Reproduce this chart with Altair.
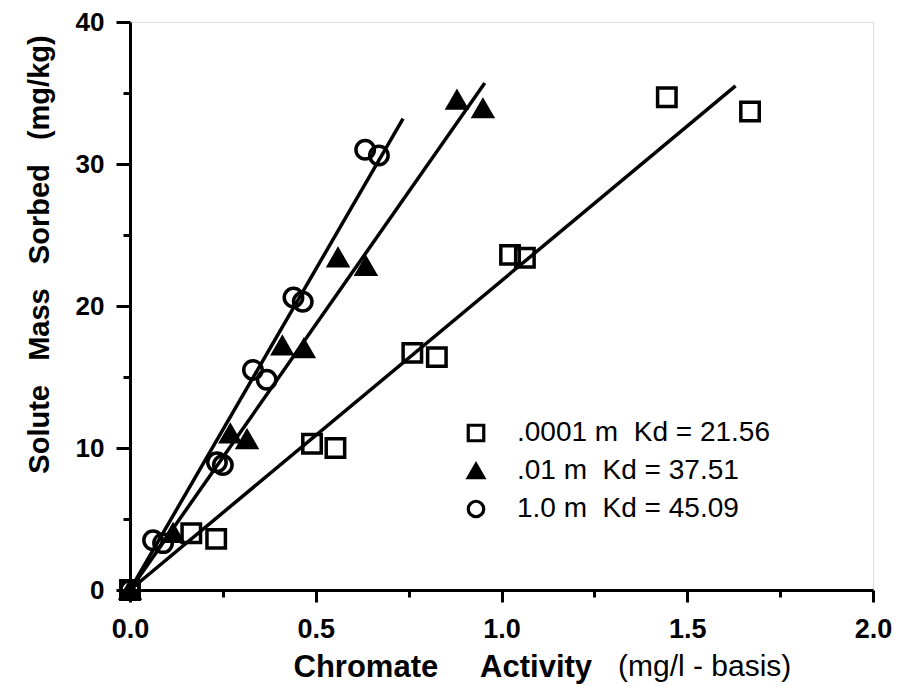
import altair as alt
import pandas as pd

NB = "\u00a0"

# ---- data ----
series_labels = [
    ".0001 m" + NB + NB + "Kd = 21.56",
    ".01 m" + NB + NB + "Kd = 37.51",
    "1.0 m" + NB + NB + "Kd = 45.09",
]

sq_x = [0.0, 0.165, 0.232, 0.490, 0.553, 0.760, 0.826, 1.023, 1.063, 1.445, 1.669]
sq_y = [0.0, 4.0, 3.6, 10.3, 10.0, 16.7, 16.4, 23.6, 23.4, 34.7, 33.7]

tri_x = [0.0, 0.116, 0.270, 0.315, 0.410, 0.468, 0.560, 0.635, 0.880, 0.950]
tri_y = [0.0, 4.0, 11.0, 10.6, 17.2, 17.0, 23.4, 22.8, 34.5, 33.9]

circ_x = [0.0, 0.062, 0.089, 0.234, 0.250, 0.331, 0.368, 0.440, 0.465, 0.633, 0.670]
circ_y = [0.0, 3.5, 3.3, 9.0, 8.8, 15.5, 14.8, 20.6, 20.3, 31.0, 30.6]

# fitted lines (start and end points)
line_x0 = [0.0, 0.0, 0.0]
line_y0 = [0.0, 0.0, 0.0]
line_x1 = [1.630, 0.955, 0.735]
line_y1 = [35.5, 35.7, 33.2]

x_major = [0.0, 0.5, 1.0, 1.5, 2.0]
x_minor = [0.25, 0.75, 1.25, 1.75]
y_major = [0, 10, 20, 30, 40]
y_minor = [5, 15, 25, 35]

FONT = "Liberation Sans"

# ---- tables ----
rows = []
for lab, xs, ys in zip(series_labels, [sq_x, tri_x, circ_x], [sq_y, tri_y, circ_y]):
    for a, b in zip(xs, ys):
        rows.append({"series": lab, "x": a, "y": b})
pts = pd.DataFrame(rows)

lrows = []
for lab, a0, b0, a1, b1 in zip(series_labels, line_x0, line_y0, line_x1, line_y1):
    lrows.append({"series": lab, "x": a0, "y": b0})
    lrows.append({"series": lab, "x": a1, "y": b1})
lines_df = pd.DataFrame(lrows)

xscale = alt.Scale(domain=[0, 2], nice=False, zero=True)
yscale = alt.Scale(domain=[0, 40], nice=False, zero=True)

common_axis = dict(
    grid=False, domainColor="black", domainWidth=3, tickColor="black", tickWidth=3,
    labelFont=FONT, labelFontWeight="bold", labelColor="black",
    labelFlush=False, labelOverlap=False, labelBound=False,
)

x_axis_major = alt.Axis(
    values=x_major, format=".1f", tickSize=12, labelFontSize=27, labelPadding=14,
    title="Chromate" + NB * 4 + " Activity", titleFont=FONT, titleFontSize=31,
    titleFontWeight="bold", titleColor="black", titleAlign="left", titleAnchor="start",
    titleBaseline="alphabetic", titleX=163, titleY=86, orient="bottom",
    **common_axis,
)
y_axis_major = alt.Axis(
    values=y_major, format="d", tickSize=14, labelFontSize=26, labelPadding=12,
    title="Solute" + NB * 3 + "Mass" + NB * 3 + "Sorbed" + NB * 3 + "(mg/kg)",
    titleFont=FONT, titleFontSize=29, titleFontWeight="bold", titleColor="black",
    titleAngle=270, titleAlign="center", titleBaseline="alphabetic",
    titleX=-82, titleY=232, orient="left",
    **common_axis,
)
x_axis_minor = alt.Axis(values=x_minor, tickSize=7, labels=False, domain=False,
                        title=None, grid=False, tickColor="black", tickWidth=3,
                        orient="bottom")
y_axis_minor = alt.Axis(values=y_minor, tickSize=7, labels=False, domain=False,
                        title=None, grid=False, tickColor="black", tickWidth=3,
                        orient="left")

legend_kw = dict(
    orient="none", legendX=332, legendY=397, title=None,
    labelFont=FONT, labelFontSize=28, labelColor="black", labelLimit=400,
    symbolSize=240, symbolStrokeWidth=3.2,
    labelOffset=27, rowPadding=9, padding=0,
)

lines = alt.Chart(lines_df).mark_line(color="black", strokeWidth=3.5).encode(
    x=alt.X("x:Q", scale=xscale, axis=x_axis_major),
    y=alt.Y("y:Q", scale=yscale, axis=y_axis_major),
    detail="series:N",
)

points = alt.Chart(pts).mark_point(
    filled=False, strokeWidth=3.5, size=340, opacity=1
).encode(
    x=alt.X("x:Q", scale=xscale, axis=x_axis_minor),
    y=alt.Y("y:Q", scale=yscale, axis=y_axis_minor),
    shape=alt.Shape("series:N", scale=alt.Scale(domain=series_labels,
                    range=["square", "triangle-up", "circle"]),
                    legend=alt.Legend(**legend_kw)),
    fill=alt.Fill("series:N", scale=alt.Scale(domain=series_labels,
                  range=["transparent", "black", "transparent"]),
                  legend=alt.Legend(**legend_kw)),
    stroke=alt.Stroke("series:N", scale=alt.Scale(domain=series_labels,
                      range=["black", "black", "black"]),
                      legend=alt.Legend(**legend_kw)),
)

unit_text = alt.Chart(pd.DataFrame({"t": ["(mg/l - basis)"]})).mark_text(
    font=FONT, fontSize=30, fontWeight="normal", color="black", align="left",
    baseline="alphabetic"
).encode(x=alt.value(488), y=alt.value(654), text="t:N")

chart = alt.layer(lines, points, unit_text).resolve_axis(
    x="independent", y="independent"
).properties(
    width=743, height=568,
    autosize=alt.AutoSizeParams(type="none"),
    padding={"left": 130, "top": 22, "right": 28, "bottom": 97},
).configure_view(
    stroke="black", strokeWidth=3
).configure(background="white")

chart.save("out.html", embed_options={"renderer": "svg", "actions": False})
